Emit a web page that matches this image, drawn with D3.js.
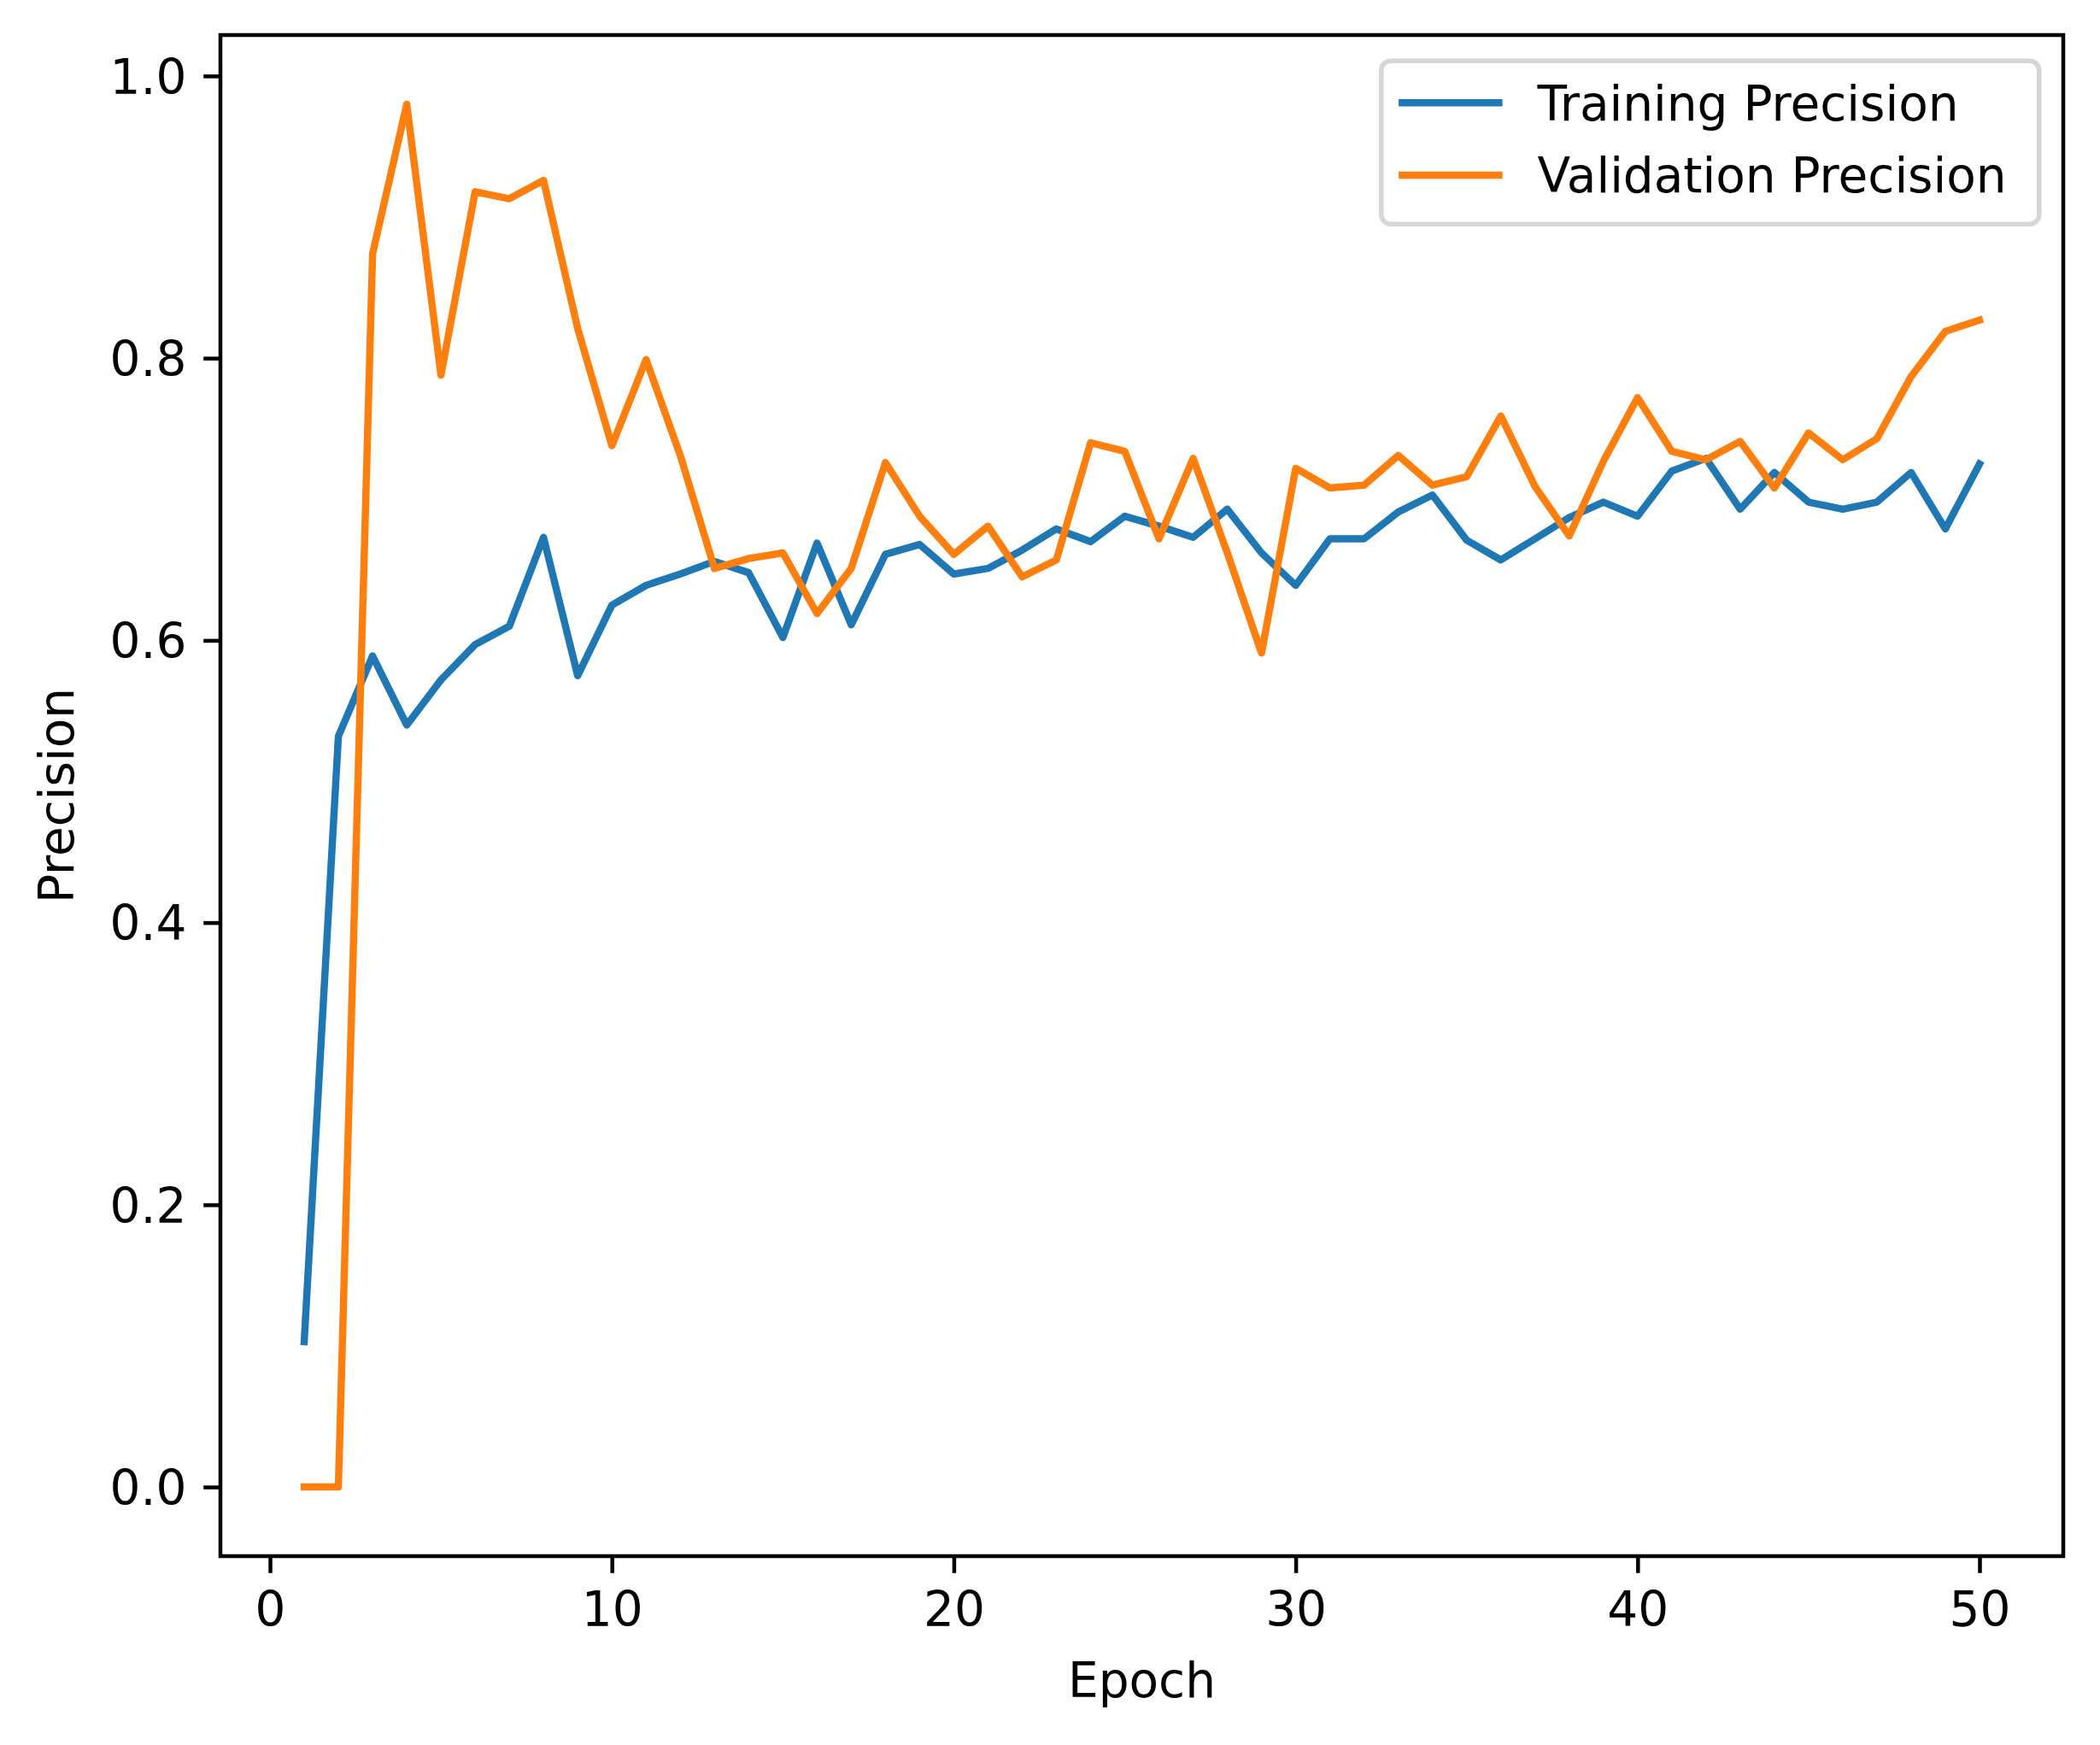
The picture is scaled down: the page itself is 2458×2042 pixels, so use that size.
<!DOCTYPE html>
<html>
<head>
<meta charset="utf-8">
<script src="https://cdn.jsdelivr.net/npm/d3@7"></script>
<style>
  body { margin: 0; background: #fff; }
  text { font-family: "DejaVu Sans", sans-serif; fill: #000; }
</style>
</head>
<body>
<div id="chart"></div>
<script>
const epochs = d3.range(1, 51);
const trainingPrecision = [
  0.103, 0.532, 0.589, 0.540, 0.572, 0.597, 0.610, 0.673, 0.575, 0.625,
  0.639, 0.647, 0.656, 0.648, 0.602, 0.669, 0.611, 0.661, 0.668, 0.647,
  0.651, 0.664, 0.679, 0.670, 0.688, 0.681, 0.673, 0.693, 0.662, 0.639,
  0.672, 0.672, 0.691, 0.703, 0.671, 0.657, 0.672, 0.687, 0.698, 0.688,
  0.720, 0.729, 0.693, 0.719, 0.698, 0.693, 0.698, 0.719, 0.679, 0.725
];
const validationPrecision = [
  0.000, 0.000, 0.874, 0.980, 0.788, 0.918, 0.913, 0.926, 0.821, 0.738,
  0.799, 0.731, 0.651, 0.658, 0.662, 0.619, 0.651, 0.726, 0.688, 0.661,
  0.681, 0.645, 0.657, 0.740, 0.734, 0.672, 0.729, 0.662, 0.591, 0.722,
  0.708, 0.710, 0.731, 0.710, 0.716, 0.759, 0.709, 0.674, 0.727, 0.772,
  0.734, 0.728, 0.741, 0.708, 0.747, 0.728, 0.743, 0.787, 0.819, 0.827
];
const seriesNames = ["Training Precision", "Validation Precision"];
const seriesColors = ["#1f77b4", "#ff7f0e"];
const xTicks = [0, 10, 20, 30, 40, 50];
const yTicks = [0.0, 0.2, 0.4, 0.6, 0.8, 1.0];

const width = 2458, height = 2042;
const fs = 56.5;               // 10pt at the figure dpi
const pt = fs / 10;
const box = { left: 258, right: 2415, top: 41, bottom: 1821 };

const svg = d3.select("#chart").append("svg")
  .attr("width", width)
  .attr("height", height);

// matplotlib style 5% margins
const xExt = d3.extent(epochs), xPad = (xExt[1] - xExt[0]) * 0.05;
const allVals = trainingPrecision.concat(validationPrecision);
const yExt = d3.extent(allVals), yPad = (yExt[1] - yExt[0]) * 0.05;

const x = d3.scaleLinear()
  .domain([xExt[0] - xPad, xExt[1] + xPad])
  .range([box.left, box.right]);
const y = d3.scaleLinear()
  .domain([yExt[0] - yPad, yExt[1] + yPad])
  .range([box.bottom, box.top]);

const line = d3.line()
  .x((d, i) => x(epochs[i]))
  .y(d => y(d));

const plot = svg.append("g");
[trainingPrecision, validationPrecision].forEach((vals, k) => {
  plot.append("path")
    .datum(vals)
    .attr("fill", "none")
    .attr("stroke", seriesColors[k])
    .attr("stroke-width", 1.5 * pt)
    .attr("stroke-linejoin", "round")
    .attr("stroke-linecap", "square")
    .attr("d", line);
});

// axes
const xAxis = svg.append("g")
  .attr("transform", `translate(0,${box.bottom})`)
  .call(d3.axisBottom(x).tickValues(xTicks).tickFormat(d3.format("d"))
    .tickSize(3.5 * pt).tickPadding(3.5 * pt));
const yAxis = svg.append("g")
  .attr("transform", `translate(${box.left},0)`)
  .call(d3.axisLeft(y).tickValues(yTicks).tickFormat(d3.format(".1f"))
    .tickSize(3.5 * pt).tickPadding(3.5 * pt));

[xAxis, yAxis].forEach(a => {
  a.select(".domain").remove();
  a.selectAll(".tick line").attr("stroke", "#000").attr("stroke-width", 0.8 * pt);
  a.selectAll(".tick text").style("font-size", fs + "px").style("font-family", "DejaVu Sans");
});
xAxis.selectAll(".tick text").attr("dy", "0.76em");
yAxis.selectAll(".tick text").attr("dy", "0.36em");

// frame
svg.append("rect")
  .attr("x", box.left).attr("y", box.top)
  .attr("width", box.right - box.left)
  .attr("height", box.bottom - box.top)
  .attr("fill", "none")
  .attr("stroke", "#000")
  .attr("stroke-width", 0.8 * pt);

svg.append("text")
  .attr("x", (box.left + box.right) / 2)
  .attr("y", 1986)
  .attr("text-anchor", "middle")
  .style("font-size", fs + "px")
  .text("Epoch");

svg.append("text")
  .attr("transform", `translate(86,${(box.top + box.bottom) / 2}) rotate(-90)`)
  .attr("text-anchor", "middle")
  .style("font-size", fs + "px")
  .text("Precision");

// legend, upper right
const lgW = 770, lgH = 191;
const lgX = box.right - 0.5 * fs - lgW, lgY = box.top + 0.5 * fs + 2;
const legend = svg.append("g").attr("transform", `translate(${lgX},${lgY})`);
legend.append("rect")
  .attr("width", lgW).attr("height", lgH)
  .attr("rx", 0.2 * fs).attr("ry", 0.2 * fs)
  .attr("fill", "#fff").attr("fill-opacity", 0.8)
  .attr("stroke", "#d6d6d6").attr("stroke-width", 1.0 * pt);

seriesNames.forEach((name, k) => {
  const cy = 49 + k * 1.5 * fs;
  legend.append("line")
    .attr("x1", 0.4 * fs + 2).attr("x2", 0.4 * fs + 2 + 2 * fs)
    .attr("y1", cy).attr("y2", cy)
    .attr("stroke", seriesColors[k])
    .attr("stroke-width", 1.5 * pt)
    .attr("stroke-linecap", "square");
  legend.append("text")
    .attr("x", 0.4 * fs + 2 + 2.8 * fs)
    .attr("y", cy)
    .attr("dy", "0.36em")
    .style("font-size", fs + "px")
    .text(name);
});
</script>
</body>
</html>
